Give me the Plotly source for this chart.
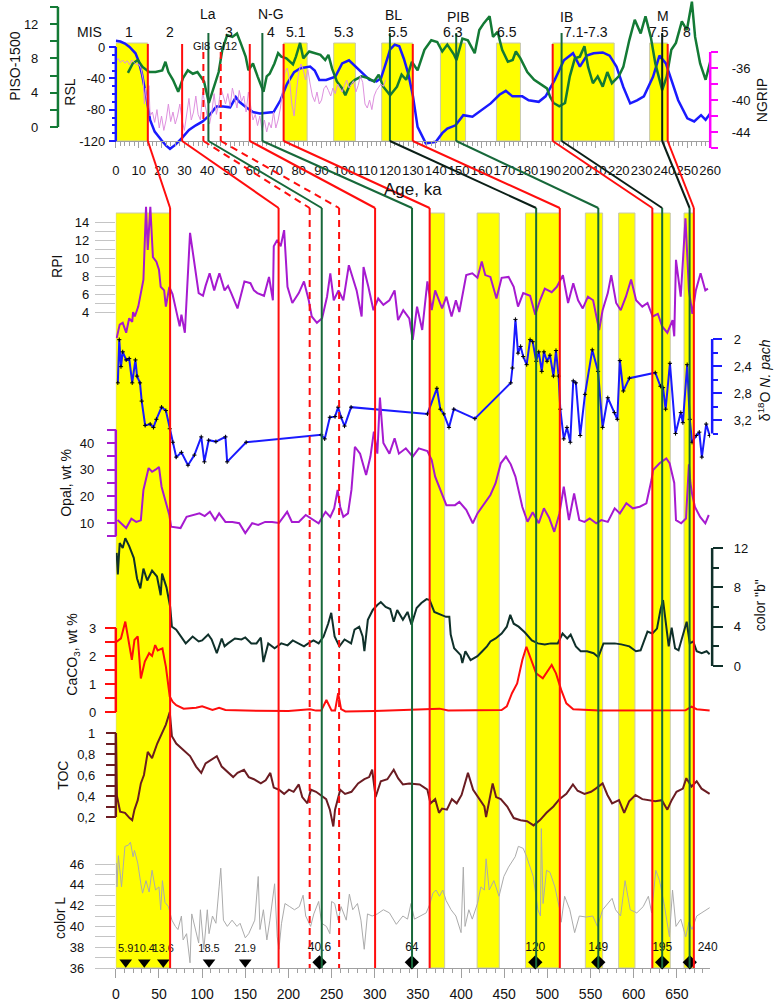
import plotly.graph_objects as go

W, H = 782, 1003

# ======================= DATA =======================
# ---- top panel: age (ka) ----
RSL = [(0, 8), (2, 7), (4, 4.5), (6, 0), (8.6, -8), (10, -18), (11.4, -34), (12.5, -50), (13.6, -68), (15, -93),
       (17, -108), (20, -119), (22, -126), (23.7, -130), (26, -125), (29, -116), (32, -106), (35, -100), (38, -95),
       (41, -87), (44, -76), (47, -76), (50, -77), (52.5, -64), (54, -70), (57, -77), (60, -83), (63, -85), (66, -84),
       (69, -83), (72, -68), (74.9, -47), (78, -32), (80.8, -27), (85, -25), (87, -30), (89, -42), (92, -42), (96, -38),
       (99, -21), (102, -17), (105, -25), (108, -34), (111, -42), (114, -44), (116, -40), (118, -22), (120, -3),
       (122, 3), (124, 1), (126, -15), (128, -35), (130, -63), (132, -102), (135.6, -123), (140, -121), (142.8, -110),
       (145, -104), (148.6, -100), (152, -87), (156, -89), (160, -80), (164, -72), (167.8, -61), (170.6, -56),
       (173.5, -63), (177.8, -63), (180.6, -68), (185, -70), (188, -63), (192, -42), (196, -17), (200, -8), (203, -25),
       (206, -11), (209, -8), (213, -7), (216, -11), (219, -25), (222, -51), (225, -72), (228, -68), (231, -63),
       (235, -38), (237.8, -11), (240.6, -21), (243.5, -46), (246, -68), (250, -91), (253, -95), (256, -87),
       (258, -93), (260, -85)]

PISO = [(5.3, 6.3), (7.4, 7.4), (9.6, 7.8), (11.7, 7.0), (14.6, 6.4), (17.4, 6.4), (20.3, 6.6), (21.7, 7.6), (23, 6.4),
        (25, 5.5), (27.3, 4.1), (29.4, 5.7), (31.5, 6.6), (33.7, 6.2), (35.7, 6.4), (38.6, 5.3), (40.7, 2.8), (43, 4.7),
        (45, 6.4), (46.6, 9.0), (48.7, 10.7), (51, 10.5), (53, 10.9), (54.6, 9.8), (56.8, 8.2), (58, 6.6), (60, 7.4),
        (62, 5.9), (64.6, 4.1), (66, 5.9), (67.3, 6.2), (69.4, 7.4), (71, 8.6), (72.4, 8.2), (74.6, 8.0), (77.5, 7.3),
        (78.8, 8.2), (80.6, 9.8), (82, 8.0), (84.6, 8.8), (87.3, 8.6), (89.5, 8.4), (91.6, 7.8), (93, 8.4), (94.6, 6.8),
        (96.7, 5.3), (99, 4.5), (100.4, 3.7), (102.5, 5.0), (104.6, 5.5), (107.5, 5.9), (110.4, 5.7), (113, 5.3),
        (115, 6.1), (117, 4.7), (120, 3.7), (123, 4.7), (125, 6.1), (127, 5.5), (129.5, 7.6), (132, 6.6), (135, 9.0),
        (138, 10.1), (140.6, 9.9), (142.8, 8.8), (145, 9.6), (148, 8.4), (149, 7.8), (151.6, 10.3), (154, 10.1),
        (157, 8.6), (159, 11.3), (161, 12.1), (163.5, 12.9), (165, 10.5), (167, 11.1), (169, 9.0), (171.5, 7.6),
        (173.6, 7.8), (175, 8.8), (177, 8.0), (180, 6.4), (183, 5.5), (186, 5.0), (188.6, 4.5), (190, 3.5),
        (191.5, 2.8), (194, 2.4), (196.5, 2.8), (198.6, 5.9), (200.8, 8.0), (203, 8.2), (205, 9.4), (206.6, 7.0),
        (208.7, 5.1), (210.8, 5.9), (213, 4.7), (215, 6.4), (217, 5.1), (220, 5.9), (222, 7.0), (224.6, 10.1),
        (227, 12.5), (229.6, 10.9), (231.7, 12.9), (234, 10.5), (236, 7.4), (239, 4.3), (241, 5.9), (243, 9.0),
        (245, 9.8), (247.6, 12.3), (249.8, 11.3), (252, 14.6), (253.4, 10.5), (255.6, 7.4), (258, 5.5), (260, 7.6)]

NGRIP = [(0, -35.2), (1, -34.8), (2, -35.3), (3, -35.0), (4, -35.4), (5, -35.1), (6, -35.6), (7, -35.0), (8, -35.3),
         (9, -35.6), (10, -35.5), (11, -36.0), (12, -37.5), (12.5, -40.5), (13, -38.5), (14, -41.0), (14.5, -38.2),
         (15, -42.0), (16, -41.5), (17, -42.8), (18, -41.2), (19, -43.5), (20, -42.0), (21, -43.8), (22, -42.5),
         (23, -40.5), (24, -42.7), (25, -41.5), (26, -43.0), (27, -42.0), (28, -40.5), (29, -42.5), (30, -43.8),
         (31, -42.0), (32, -39.8), (33, -42.5), (34, -41.5), (35, -39.5), (36, -41.8), (37, -42.5), (38, -39.0),
         (39, -40.5), (40, -42.0), (41, -43.0), (42, -41.5), (43, -39.2), (44, -41.8), (45, -40.5), (46, -38.5),
         (47, -39.5), (48, -40.5), (49, -39.2), (50, -40.8), (51, -38.5), (52, -39.8), (53, -41.0), (54, -38.8),
         (55, -40.2), (56, -39.5), (57, -41.5), (58, -39.0), (59, -40.8), (60, -42.5), (61, -41.8), (62, -43.2),
         (63, -42.0), (64, -43.8), (65, -42.5), (66, -44.0), (67, -42.8), (68, -43.5), (69, -41.5), (70, -43.5),
         (71, -42.5), (72, -41.0), (73, -38.5), (74, -36.5), (75, -36.0), (76, -37.5), (77, -40.5), (78, -42.0),
         (79, -39.0), (80, -36.5), (81, -35.5), (82, -36.2), (83, -37.5), (84, -36.2), (85, -38.0), (86, -39.5),
         (87, -40.2), (88, -39.0), (89, -40.5), (90, -40.0), (91, -38.6), (92, -38.2), (93, -38.8), (94, -39.5),
         (95, -38.5), (96, -39.2), (97, -38.0), (98, -38.6), (99, -39.0), (100, -38.2), (101, -37.5), (102, -38.5),
         (103, -38.0), (104, -37.6), (105, -39.0), (106, -38.2), (107, -37.0), (108, -37.8), (109, -40.5),
         (110, -41.0), (111, -40.0), (112, -41.2), (113, -39.5), (114, -38.8), (115, -38.4), (116, -38.0),
         (117, -38.3), (118, -37.5)]

# ---- main panel: depth (cm) ----
RPI = [(1, 1.1), (4.5, 2.6), (8, 2.8), (12, 1.7), (15.5, 3.3), (19, 2.9), (20, 4.0), (22, 3.5), (26, 4.6), (30, 6.4),
       (32, 7.6), (35, 15.7), (37, 10.9), (40, 15.7), (43, 10.1), (47, 9.6), (50, 8.7), (52, 6.8), (56, 6.4), (58, 4.6),
       (62, 6.8), (65.7, 6.0), (70, 4.2), (74, 2.4), (76, 3.7), (80, 1.7), (86, 12.8), (92, 9.0), (96, 6.1), (101, 5.8),
       (104, 6.9), (108.7, 8.3), (114, 6.4), (117, 7.4), (120, 8.3), (126, 6.4), (130, 6.9), (133.7, 6.1), (141, 4.4),
       (149, 7.4), (156, 7.2), (160, 6.4), (164, 6.1), (171.7, 5.8), (177.5, 7.9), (182, 5.3), (183, 11.3), (187, 12.0),
       (191, 11.3), (195, 13.1), (198.9, 6.8), (204.5, 5.0), (212, 6.1), (218, 7.4), (223.5, 5.3), (227, 3.5),
       (233, 2.8), (239, 3.3), (244.7, 5.7), (248.5, 8.3), (252.5, 5.3), (258, 6.4), (263.6, 5.3), (270, 9.2),
       (279, 6.4), (284.8, 3.5), (287, 9.0), (292.6, 6.8), (298.5, 4.2), (304, 5.5), (310, 4.8), (317, 5.3),
       (323, 6.4), (327, 3.1), (333, 4.2), (340, 3.3), (344, 0.9), (349, 4.6), (355, 2.0), (361, 7.4), (366, 4.2),
       (370, 6.4), (378, 4.4), (383, 5.7), (389, 3.5), (394, 5.3), (398, 4.0), (406, 8.1), (413, 8.3), (419, 7.8),
       (424, 9.6), (428, 8.1), (434, 7.9), (441, 5.5), (447, 7.8), (455, 7.9), (461, 6.8), (466, 4.6), (472, 6.1),
       (480, 5.8), (486, 3.7), (491.5, 5.3), (497, 6.6), (505, 6.2), (511, 6.8), (518, 8.1), (524, 5.0), (530, 7.2),
       (535.6, 5.3), (541, 4.4), (547, 5.7), (553, 5.3), (560, 2.0), (564, 4.2), (570, 6.1), (574, 8.1),
       (579.7, 5.0), (585, 4.2), (591, 5.7), (597, 7.6), (602.8, 5.3), (610, 4.6), (616, 5.0), (622, 3.5),
       (628, 3.8), (633, 2.4), (639, 1.7), (645, 3.1), (647, 1.3), (649, 9.8), (654.5, 5.7), (660, 14.4), (664, 6.4),
       (668, 3.8), (672, 6.4), (677.5, 8.3), (683, 6.4), (686, 6.6)]

D18O = [(2.3, 2.65), (4, 2.01), (6, 2.41), (8, 2.19), (12, 2.31), (15.5, 2.29), (19, 2.65), (22.7, 2.31), (24.6, 2.55),
        (28, 2.65), (30, 2.92), (34, 3.28), (39.8, 3.26), (43.6, 3.31), (47, 3.19), (53, 3.01), (58, 3.06),
        (62.5, 3.33), (66, 3.53), (70, 3.75), (76, 3.68), (83.6, 3.87), (91, 3.72), (99, 3.45), (102.6, 3.82),
        (107.6, 3.50), (116, 3.52), (127, 3.45), (129, 3.82), (151, 3.53), (238, 3.42), (242, 3.48), (248, 3.16),
        (254, 3.15), (257.6, 3.01), (261, 3.16), (265, 3.29), (272.6, 3.01), (361, 3.11), (372, 2.73), (376, 3.04),
        (380, 3.11), (386, 3.31), (391.6, 3.04), (416, 3.18), (457.6, 2.65), (459.5, 2.43), (463, 1.71), (466, 2.21),
        (469, 2.11), (472, 2.26), (476, 2.38), (480, 2.01), (483, 2.04), (487, 2.33), (490, 2.19), (493.5, 2.48),
        (496, 2.19), (499.6, 2.33), (503, 2.24), (507, 2.55), (510, 2.17), (513, 2.55), (515, 3.04), (519, 3.48),
        (522.7, 3.31), (526.5, 3.53), (530, 2.62), (533, 2.65), (538, 3.43), (543.6, 2.82), (552, 2.16),
        (558.7, 2.48), (564, 3.31), (570, 2.87), (577.6, 3.09), (581, 3.19), (584, 2.32), (588, 2.77), (595, 2.58),
        (625, 2.50), (631, 2.70), (634, 2.72), (637, 3.04), (642, 2.36), (648.5, 3.40), (654.6, 3.09), (657, 3.24),
        (662, 2.38), (665, 3.19), (667.6, 3.53), (672.5, 3.43), (676, 3.38), (679, 3.75), (684, 3.26), (688, 3.43)]

OPAL = [(2, 11.1), (6, 9.9), (12, 8.1), (18, 11.6), (23.6, 10.4), (29, 11), (32, 22.4), (38, 30.6), (42, 29.2), (46, 30),
        (50, 31), (53, 23.6), (58, 18), (62, 13), (64, 8.6), (75, 8.1), (82, 12.3), (90, 13), (97, 13.6), (103, 12.6),
        (109, 14.2), (115, 11.1), (119.7, 13.6), (127, 10.4), (135, 10.4), (143, 9.9), (150, 6.2), (158, 9.9),
        (165, 9.3), (173, 10.4), (181, 10.4), (189, 10), (198.5, 14.2), (204, 10.4), (212, 10.4), (220, 13),
        (227, 11.7), (235, 9.9), (243, 14.2), (248.5, 12.3), (253, 15.5), (257, 22.4), (260, 16), (263.6, 12.3),
        (269, 13.6), (273, 22.4), (277, 38.6), (283, 36), (290, 28), (295, 34.9), (299, 44.3), (303, 36), (306, 57),
        (310, 40), (317, 36), (323, 41.8), (328, 36), (336, 38), (344, 34.9), (351, 38), (361, 37), (366, 33.6),
        (370, 27.4), (378, 21.1), (383, 16.7), (393, 16.7), (398, 17.9), (406, 14.9), (413.6, 9.9), (419, 13.6),
        (427, 17.4), (434, 20.5), (440, 24.9), (446, 32.4), (452, 34.9), (457.6, 32), (463, 27.4), (471, 16),
        (477, 10.5), (483, 14), (490, 9.9), (496, 15.5), (502, 12), (508, 6.7), (514, 13.6), (519, 23.6),
        (525, 11.1), (531, 21.1), (537, 11.1), (543, 10.4), (549, 11.7), (556.6, 9.9), (562.5, 11.1), (570, 10.4),
        (578, 15.5), (584, 13.6), (591.5, 17.4), (599, 15.5), (607, 16.1), (614.7, 17.4), (620.6, 26.1),
        (622.5, 29.9), (630, 32.4), (637.8, 34.2), (641.6, 32.4), (647, 25), (649, 11.1), (655, 9.9), (660.6, 11.7),
        (662, 22), (664, 32), (665.7, 25), (667.6, 21), (671, 16), (677, 12.3), (683, 9.9), (687, 13)]

COLOR_B = [(1, 11.5), (2.3, 9.3), (4.5, 12.5), (8, 12), (11, 13), (15.5, 12.2), (20.8, 11), (24.6, 8.9), (28.4, 7.9),
           (32, 9.9), (36.4, 8.7), (42, 9.7), (47.7, 9.1), (52, 7.2), (53.6, 9.4), (58.7, 8.0), (63, 6.0), (65, 4.0),
           (70, 3.7), (76, 3.0), (81, 2.3), (89, 3.0), (96, 2.5), (100, 2.6), (104, 3.0), (107, 3.2), (111, 2.7),
           (117, 1.3), (122.7, 2.8), (126, 2.0), (130, 2.3), (138, 2.8), (145.6, 2.7), (150, 2.9), (157, 2.3),
           (163, 2.3), (168, 2.9), (171, 0.4), (176.6, 2.3), (184, 1.8), (191.7, 2.3), (199, 2.1), (205, 2.6),
           (212, 2.3), (218, 2.0), (223, 2.3), (229, 2.6), (235, 2.3), (240.7, 3.0), (246, 4.3), (249.6, 5.4),
           (253.5, 3.0), (259, 2.0), (265, 2.7), (272.6, 2.3), (276.6, 3.7), (282, 4.0), (286, 3.0), (288, 1.5),
           (292, 4.7), (297.7, 5.7), (303, 6.2), (307, 6.5), (312.6, 6.0), (318, 5.8), (322, 4.5), (326, 5.7),
           (332.6, 4.7), (338, 5.5), (342.6, 4.2), (348.5, 5.9), (354, 6.4), (360, 6.8), (363.6, 6.7), (369, 5.5),
           (377, 5.2), (382.6, 5.0), (386.4, 5.0), (388, 3.2), (392, 1.8), (399.6, 1.1), (401.5, 0.3), (405, 1.5),
           (411, 0.6), (419, 1.0), (424.6, 1.5), (430, 2.0), (434, 2.5), (440, 2.8), (447, 3.3), (453, 4.0),
           (457, 5.2), (461, 4.3), (466.7, 4.0), (474, 3.4), (482, 2.6), (489, 2.3), (497, 2.2), (504, 2.3),
           (512, 2.3), (517.6, 3.3), (523, 2.8), (527, 3.2), (533, 2.0), (538.6, 1.5), (546, 1.5), (553.6, 1.3),
           (559, 0.9), (565, 2.3), (570.6, 2.3), (578, 2.3), (585.6, 2.2), (595, 2.0), (602.6, 1.5), (608, 1.6),
           (616, 3.5), (621.6, 3.3), (627, 3.8), (631, 5.7), (634, 6.7), (636.7, 4.5), (640.6, 2.0), (644, 3.9),
           (648, 1.8), (652, 1.6), (657.6, 3.3), (661.4, 4.5), (665, 2.3), (669, 2.5), (673, 1.5), (678.8, 1.3),
           (684.5, 1.5), (688, 1.2)]

CACO3 = [(1, 2.51), (6, 2.63), (11, 3.23), (14.8, 2.57), (18.6, 1.86), (21.6, 2.57), (25.4, 2.70), (29, 1.2),
         (33.6, 1.8), (38.6, 2.1), (42, 2.0), (45.6, 2.39), (48.5, 2.2), (54, 2.27), (58, 1.62), (62.5, 0.55),
         (66, 0.36), (70, 0.24), (78.6, 0.12), (93, 0.15), (100, 0.2), (112, 0.07), (119.7, 0.15), (127, 0.07),
         (150, 0.05), (200, 0.04), (225, 0.1), (232, 0.05), (238, 0.05), (244, 0.43), (250, 0.05), (254, 0.05),
         (257.6, 0.67), (261, 0.1), (266, 0.02), (300, 0.04), (365, 0.1), (375, 0.12), (385, 0.05), (447, 0.07),
         (453, 0.2), (459, 0.67), (465, 1.02), (471, 1.86), (475.7, 2.33), (481, 1.86), (487, 1.38), (494.7, 1.2),
         (500.6, 1.5), (505, 1.68), (510, 1.38), (516, 0.79), (522, 0.31), (530, 0.1), (560, 0.05), (620, 0.05),
         (660, 0.06), (667, 0.19), (673, 0.1), (688, 0.05)]

TOC = [(0.2, 1.0), (0.8, 0.6), (1.3, 0.4), (5, 0.25), (10.6, 0.24), (16, 0.19), (19, 0.17), (21.6, 0.27), (25.4, 0.36),
       (29, 0.52), (32.6, 0.6), (37, 0.82), (42, 0.76), (48, 0.9), (53.6, 1.0), (58, 1.08), (62.5, 1.2), (65, 0.97),
       (70, 0.9), (78.6, 0.84), (86, 0.78), (93, 0.68), (99, 0.62), (104, 0.71), (111, 0.75), (117, 0.78),
       (122.7, 0.68), (130, 0.62), (136, 0.58), (141, 0.62), (148.5, 0.65), (154, 0.58), (160, 0.56), (168, 0.52),
       (173.6, 0.55), (179, 0.62), (183, 0.48), (189, 0.46), (195, 0.42), (200.6, 0.46), (206, 0.44), (212, 0.51),
       (216, 0.39), (222, 0.33), (226, 0.46), (232, 0.44), (238, 0.40), (243.7, 0.37), (248, 0.27), (252, 0.11),
       (254, 0.27), (258, 0.39), (260, 0.46), (265.6, 0.42), (273, 0.44), (280.7, 0.52), (288, 0.56), (293.5, 0.58),
       (297, 0.65), (301, 0.39), (307, 0.54), (314.6, 0.56), (322, 0.65), (327, 0.57), (332.6, 0.51), (340, 0.52),
       (352, 0.51), (361, 0.46), (364.6, 0.33), (370, 0.37), (374.4, 0.24), (378, 0.28), (383.6, 0.27),
       (389.4, 0.37), (395, 0.33), (400.6, 0.41), (408, 0.62), (414, 0.46), (419.7, 0.39), (427, 0.3), (429, 0.2),
       (433, 0.39), (436.6, 0.52), (440.6, 0.39), (446, 0.37), (453.5, 0.3), (461, 0.19), (469, 0.17),
       (476.5, 0.16), (484, 0.12), (491.5, 0.17), (499, 0.24), (507, 0.3), (514, 0.37), (522, 0.42), (529.6, 0.51),
       (535, 0.45), (543, 0.42), (550.6, 0.44), (556, 0.47), (564, 0.52), (569.6, 0.41), (575, 0.33), (583, 0.36),
       (589, 0.24), (594.7, 0.35), (602, 0.41), (610, 0.37), (617.4, 0.36), (625, 0.35), (632.6, 0.36), (639, 0.27),
       (644, 0.36), (649.6, 0.44), (657, 0.47), (661, 0.57), (667, 0.49), (673, 0.54), (678.6, 0.47), (684.5, 0.44),
       (688, 0.42)]

COLOR_L = [(0.5, 46.1), (1.3, 43.8), (3, 46.8), (6.6, 43.8), (10.6, 47.7), (14.4, 47.8), (17, 48.1), (20, 46.7),
           (21.6, 47.3), (25.4, 46.1), (29, 44.1), (31, 43.2), (35, 44.4), (38.6, 43.3), (42, 45.4), (46, 43.5),
           (50, 43.8), (52, 41.6), (54, 44.4), (57, 42.3), (61, 41.9), (65, 40.6), (69, 40.0), (72, 39.7), (76, 41.0),
           (78, 38.7), (82, 39.3), (86, 36.5), (88, 41.2), (92, 39.7), (96, 38.4), (98, 41.6), (102, 37.8),
           (106, 41.6), (108, 39.3), (112, 41.0), (116, 40.3), (119.7, 43.8), (121.6, 45.6), (124.7, 40.6),
           (129.2, 40.0), (134.7, 40.6), (140.4, 40.0), (144, 40.3), (150, 38.9), (154, 39.3), (157.6, 40.0),
           (161, 40.6), (165, 44.8), (167, 39.7), (171, 41.6), (175, 38.7), (178.5, 40.6), (184, 44.1), (187, 39.0),
           (189, 37.8), (192, 40.3), (196, 42.2), (201.5, 41.9), (207, 41.6), (212.6, 41.9), (217, 43.0), (220, 41.0),
           (225.7, 40.0), (229.4, 41.2), (235, 42.4), (238.5, 40.3), (244, 40.0), (248, 39.3), (250, 42.4),
           (253.6, 42.2), (257.6, 40.6), (261, 41.9), (267, 40.6), (270.6, 43.1), (274.5, 41.6), (280, 42.2),
           (284, 40.6), (287.8, 37.8), (291.6, 41.2), (297, 41.0), (303, 41.2), (310, 41.6), (317, 41.3), (325, 40.2),
           (332.6, 41.0), (338, 40.7), (342, 42.2), (346, 40.7), (352, 41.0), (359.6, 41.3), (363.6, 42.1),
           (367.4, 43.2), (371, 43.5), (375, 42.9), (378.8, 43.5), (382.6, 42.5), (388.4, 41.6), (394, 41.0),
           (400, 39.4), (402.6, 45.7), (404.6, 40.0), (409, 41.6), (413, 40.7), (419, 42.2), (423, 43.8), (427, 43.5),
           (429, 46.5), (432.6, 43.5), (438, 44.4), (444, 42.9), (449.6, 44.8), (455, 45.7), (462.7, 46.7),
           (466.4, 47.7), (472, 47.5), (476, 46.7), (480, 45.7), (483.6, 44.8), (489, 41.6), (492, 41.0), (493, 49.4),
           (495, 42.2), (499, 45.4), (503, 45.2), (508.7, 43.8), (514.4, 41.6), (516, 40.4), (520, 42.9), (526, 41.6),
           (531.6, 39.4), (537, 41.0), (545, 40.9), (552.6, 41.0), (558, 40.0), (564, 41.6), (570, 42.2), (575, 42.7),
           (579, 41.6), (584.8, 41.0), (590, 44.4), (596, 41.6), (603.6, 41.3), (611, 41.9), (617, 42.9),
           (620.8, 41.3), (625.6, 45.4), (630, 44.4), (635.8, 41.9), (641.4, 39.0), (645, 43.5), (649, 40.0),
           (654.6, 40.7), (660.3, 39.0), (664, 40.4), (667.6, 39.7), (673, 41.0), (679, 41.3), (684.5, 41.6),
           (688, 41.8)]

# age-control points (depth, age label)
TRI_DEPTH = [11.5, 33, 55, 108, 150]
TRI_LABEL = ["5.9", "10.4", "13.6", "18.5", "21.9"]
DIA_DEPTH = [236, 343, 486, 559, 633, 665]
DIA_LABEL = ["40.6", "64", "120", "149", "195", "240"]

# warm stages (yellow) in age and depth
AGE_BANDS = [(0, 14), (73.4, 83.7), (95.3, 104.8), (116.3, 129.9), (142, 153), (166.5, 177), (191.1, 218), (233.5, 241.4)]
DEPTH_BANDS = [(0, 62.9), (364, 381), (418.6, 444.3), (474.6, 514.4), (544, 564), (582.6, 601.5), (621.6, 642.4), (658.3, 669.7)]

# correlation tie points: age (ka) -> depth (cm)
TIE_AGE = [14, 29, 38.3, 40.5, 45.9, 58.6, 64.1, 73.4, 119.9, 129.9, 148.9, 191.1, 195, 239, 241.4]
TIE_DEPTH = [62.9, 188.6, 224.6, 238.6, 258.7, 300.4, 343.2, 363.6, 487, 514.4, 559, 621.6, 633, 664.8, 669.7]
TIE_KIND = ["r", "r", "rd", "g", "rd", "r", "g", "r", "k", "r", "g", "r", "k", "kk", "r"]

MIS_LABEL = ["1", "2", "3", "4", "5.1", "5.3", "5.5", "6.3", "6.5", "7.1-7.3", "7.5", "8"]
MIS_AGE = [5.6, 23.6, 49.4, 67.8, 79, 100, 123.5, 147.6, 171, 205.6, 237.8, 250]
EVENT_LABEL = ["La", "N-G", "BL", "PIB", "IB", "M"]
EVENT_AGE = [40.3, 67.8, 121.5, 149.8, 197, 239.5]
GI_LABEL = ["Gl8", "Gl12"]
GI_AGE = [37.3, 48]

# ======================= STYLE / LAYOUT =======================
FONT = "Liberation Sans, Arial, sans-serif"
BLUE = "#1a1aff"
GREEN = "#137a35"
DKGREEN = "#17683a"
BLACK = "#0b1f17"
RED = "#ff0d0d"
PURPLE = "#a61ad0"
PINK = "#de90de"
MAGENTA = "#ff00ff"
CB_COL = "#0f302a"
TOC_COL = "#6b1c22"
GRAY_T = "#c4c4c4"
AX_GRAY = "#a0a0a0"

X_L, X_R = 114, 720
AGE_RANGE = [0, 260]
DEPTH_RANGE = [0, (X_R - X_L) / 0.88]
Y_AGE_AXIS, Y_DEPTH_AXIS = 141, 968
Y_TIE_TOP = 208
Y_BAND_MAIN_TOP = 213
Y_BAND_TOP = (43, 141)


def unzip(pairs):
    return [p[0] for p in pairs], [p[1] for p in pairs]


def px(x):
    return x / W


def py(y):
    return 1 - y / H


def age_px(a):
    return X_L + (a - AGE_RANGE[0]) / (AGE_RANGE[1] - AGE_RANGE[0]) * (X_R - X_L)


def depth_px(d):
    return X_L + (d - DEPTH_RANGE[0]) / (DEPTH_RANGE[1] - DEPTH_RANGE[0]) * (X_R - X_L)


# y-axis definitions: reference (value_a, pixel_a, value_b, pixel_b)
AXES = {
    "yaxis": dict(ref=(0, 47, -120, 141), side="left", pos=114, color=BLUE, major=[-120, -80, -40, 0],
                  minor=[-110, -100, -90, -70, -60, -50, -30, -20, -10], line=(-120, 0), tl=7, ml=4, so=1, tw=2),
    "yaxis2": dict(ref=(12, 24, 0, 127), side="left", pos=55, color=GREEN, major=[0, 4, 8, 12], minor=[2, 6, 10, 14],
                   line=(0, 14), tl=8, ml=8, so=9, tw=2),
    "yaxis3": dict(ref=(-36, 68, -44, 132), side="right", pos=720, color=MAGENTA, major=[-44, -40, -36],
                   minor=[-46, -42, -38, -34], line=(-46, -34), tl=7, ml=7, so=11, tw=2),
    "yaxis4": dict(ref=(14, 222, 4, 312), side="left", pos=113, color=GRAY_T, major=[4, 6, 8, 10, 12, 14],
                   minor=[5, 7, 9, 11, 13], line=None, tl=20, ml=20, so=3, tw=1),
    "yaxis5": dict(ref=(2, 339, 3.2, 420), side="right", pos=722, color=BLUE, major=[2, 2.4, 2.8, 3.2],
                   text=["2", "2,4", "2,8", "3,2"], minor=[2.2, 2.6, 3.0, 3.4], line=(2, 3.4), tl=9, ml=5, so=9, tw=2),
    "yaxis6": dict(ref=(40, 443, 10, 523), side="left", pos=114, color=PURPLE, major=[10, 20, 30, 40],
                   minor=[5, 15, 25, 35, 45], line=(5, 45), tl=9, ml=9, so=10, tw=2),
    "yaxis7": dict(ref=(12, 548, 0, 666), side="right", pos=722, color=CB_COL, major=[0, 4, 8, 12], minor=[2, 6, 10],
                   line=(0, 12), tl=10, ml=6, so=8, tw=2),
    "yaxis8": dict(ref=(3, 628, 0, 712), side="left", pos=114, color=RED, major=[0, 1, 2, 3], minor=[0.5, 1.5, 2.5],
                   line=(0, 3), tl=11, ml=11, so=6, tw=2),
    "yaxis9": dict(ref=(1, 733, 0.2, 817), side="left", pos=114, color=TOC_COL, major=[0.2, 0.4, 0.6, 0.8, 1.0],
                   text=["0,2", "0,4", "0,6", "0,8", "1"], minor=[0.3, 0.5, 0.7, 0.9], line=(0.2, 1.0), tl=10, ml=10,
                   so=8, tw=2),
    "yaxis10": dict(ref=(46, 864, 36, 968), side="left", pos=113, color=GRAY_T, major=[36, 38, 40, 42, 44, 46],
                    minor=[37, 39, 41, 43, 45], line=None, tl=20, ml=20, so=8, tw=1),
}


def ppu(cfg):
    va, ya, vb, yb = cfg["ref"]
    return (yb - ya) / (va - vb)


def v2px(cfg, v):
    va, ya, _, _ = cfg["ref"]
    return ya + (va - v) * ppu(cfg)


def yrange(cfg):
    va, ya, _, _ = cfg["ref"]
    k = ppu(cfg)
    return [va - (H - ya) / k, va + ya / k]


fig = go.Figure()


def add_line(pairs, xa, ya, color, width, **kw):
    xs, ys = unzip(pairs)
    fig.add_trace(go.Scatter(x=xs, y=ys, xaxis=xa, yaxis=ya, mode=kw.pop("mode", "lines"),
                             line=dict(color=color, width=width), hoverinfo="skip", **kw))


add_line(NGRIP, "x", "y3", PINK, 1)
add_line(RSL, "x", "y", BLUE, 2.5)
add_line(PISO, "x", "y2", GREEN, 2.5)
add_line(COLOR_L, "x2", "y10", "#ababab", 1)
add_line(TOC, "x2", "y9", TOC_COL, 2)
add_line(CACO3, "x2", "y8", RED, 2)
add_line(COLOR_B, "x2", "y7", CB_COL, 2)
add_line(OPAL, "x2", "y6", PURPLE, 2)
add_line(D18O, "x2", "y5", BLUE, 2, mode="lines+markers",
         marker=dict(symbol="cross-thin", size=3, color="black", line=dict(width=1, color="black")))
add_line(RPI, "x2", "y4", PURPLE, 2)

# age-control markers
L_BASE = 36.55
fig.add_trace(go.Scatter(x=TRI_DEPTH, y=[L_BASE] * len(TRI_DEPTH), xaxis="x2", yaxis="y10", mode="markers+text",
                         marker=dict(symbol="triangle-down", size=11, color="black"), text=TRI_LABEL,
                         textposition="top center", textfont=dict(size=11, color="#111"), cliponaxis=False,
                         hoverinfo="skip"))
fig.add_trace(go.Scatter(x=DIA_DEPTH, y=[L_BASE] * len(DIA_DEPTH), xaxis="x2", yaxis="y10", mode="markers+text",
                         marker=dict(symbol="diamond", size=11, color="black"), text=DIA_LABEL,
                         textposition=["top center"] * (len(DIA_DEPTH) - 1) + ["top right"],
                         textfont=dict(size=12, color="#111"), cliponaxis=False, hoverinfo="skip"))

layout = dict(
    width=W, height=H, margin=dict(l=0, r=0, t=0, b=0), paper_bgcolor="white", plot_bgcolor="rgba(0,0,0,0)",
    showlegend=False, font=dict(family=FONT, size=13, color="#111"),
)

layout["xaxis"] = dict(domain=[px(X_L), px(X_R)], range=AGE_RANGE, anchor="free", position=py(Y_AGE_AXIS),
                       showline=True, linecolor=AX_GRAY, linewidth=1, showgrid=False, zeroline=False,
                       tickmode="array", tickvals=list(range(0, 261, 10)), ticks="outside", ticklen=6,
                       tickcolor=AX_GRAY, tickangle=0, ticklabelstandoff=11, tickfont=dict(size=13, color="#111"),
                       minor=dict(tickmode="array", tickvals=[v for v in range(0, 261, 2) if v % 10],
                                  ticks="outside", ticklen=4, tickcolor=AX_GRAY))
layout["xaxis2"] = dict(domain=[px(X_L), px(X_R)], range=DEPTH_RANGE, anchor="free", position=py(Y_DEPTH_AXIS),
                        showline=True, linecolor=AX_GRAY, linewidth=1, showgrid=False, zeroline=False,
                        tickmode="array", tickvals=list(range(0, 651, 50)), ticks="outside", ticklen=9,
                        tickcolor=AX_GRAY, tickangle=0, ticklabelstandoff=4, tickfont=dict(size=14, color="#111"),
                        minor=dict(tickmode="array", tickvals=[v for v in range(0, 690, 10) if v % 50],
                                   ticks="outside", ticklen=4, tickcolor=AX_GRAY))

shapes = []
for name, cfg in AXES.items():
    layout[name] = dict(
        domain=[0, 1], range=yrange(cfg), autorange=False, anchor="free", position=px(cfg["pos"]),
        side=cfg["side"], showline=False, showgrid=False, zeroline=False, tickmode="array",
        tickvals=cfg["major"], ticktext=cfg.get("text", [str(v) for v in cfg["major"]]),
        ticks="outside", ticklen=cfg["tl"], tickwidth=cfg["tw"], tickcolor=cfg["color"],
        ticklabelstandoff=cfg["so"], tickfont=dict(size=13, color="#111"),
        minor=dict(tickmode="array", tickvals=cfg["minor"], ticks="outside", ticklen=cfg["ml"],
                   tickwidth=cfg["tw"], tickcolor=cfg["color"]),
    )
    if cfg["line"] is not None:
        lo, hi = cfg["line"]
        shapes.append(dict(type="line", xref="paper", yref="paper", x0=px(cfg["pos"]), x1=px(cfg["pos"]),
                           y0=py(v2px(cfg, lo)), y1=py(v2px(cfg, hi)), line=dict(color=cfg["color"], width=2.5),
                           layer="above"))

# yellow bands
for a0, a1 in AGE_BANDS:
    shapes.append(dict(type="rect", xref="x", yref="paper", x0=a0, x1=a1, y0=py(Y_BAND_TOP[1]), y1=py(Y_BAND_TOP[0]),
                       fillcolor="#ffff00", line=dict(color="#c8c8b0", width=1), layer="below"))
for d0, d1 in DEPTH_BANDS:
    shapes.append(dict(type="rect", xref="x2", yref="paper", x0=d0, x1=d1, y0=py(Y_DEPTH_AXIS), y1=py(Y_BAND_MAIN_TOP),
                       fillcolor="#ffff00", line=dict(color="#c8c8b0", width=1), layer="below"))

# correlation lines
KIND = {
    "r": dict(conn=RED, top=RED, main=RED, dash="solid", ytop=44),
    "rd": dict(conn=RED, top=RED, main=RED, dash="7px,5px", ytop=52),
    "g": dict(conn=DKGREEN, top=DKGREEN, main=DKGREEN, dash="solid", ytop=33),
    "k": dict(conn=BLACK, top=DKGREEN, main=DKGREEN, dash="solid", ytop=33),
    "kk": dict(conn=BLACK, top=BLACK, main=DKGREEN, dash="solid", ytop=33),
}
for a, d, k in zip(TIE_AGE, TIE_DEPTH, TIE_KIND):
    s = KIND[k]
    shapes.append(dict(type="line", xref="x", yref="paper", x0=a, x1=a, y0=py(s["ytop"]), y1=py(Y_AGE_AXIS),
                       line=dict(color=s["top"], width=2, dash=s["dash"]), layer="above"))
    shapes.append(dict(type="line", xref="paper", yref="paper", x0=px(age_px(a)), x1=px(depth_px(d)),
                       y0=py(Y_AGE_AXIS), y1=py(Y_TIE_TOP), line=dict(color=s["conn"], width=2, dash=s["dash"]),
                       layer="above"))
    shapes.append(dict(type="line", xref="x2", yref="paper", x0=d, x1=d, y0=py(Y_TIE_TOP), y1=py(Y_DEPTH_AXIS),
                       line=dict(color=s["main"], width=2, dash=s["dash"]), layer="above"))

layout["shapes"] = shapes

ann = []


def text(x, y, t, size=14, angle=0, xref="paper", xanchor="center"):
    ann.append(dict(x=x, y=py(y), xref=xref, yref="paper", text=t, showarrow=False, textangle=angle,
                    font=dict(size=size, color="#111", family=FONT), xanchor=xanchor, yanchor="middle"))


text(px(87), 32, "MIS")
for lab, a in zip(MIS_LABEL, MIS_AGE):
    text(a, 32, lab, xref="x")
EVENT_Y = [14, 14, 15, 17, 17, 16]
for lab, a, yy in zip(EVENT_LABEL, EVENT_AGE, EVENT_Y):
    text(a, yy, lab, xref="x")
for lab, a in zip(GI_LABEL, GI_AGE):
    text(a, 46, lab, size=11, xref="x")

text(px(11), 66, "PISO-1500", angle=-90)
text(px(67), 92, "RSL", angle=-90)
text(px(773), 100, "NGRIP", angle=-90)
text(px(417), 189, "Age, ka", size=17)
text(px(54), 266, "RPI", angle=-90)
text(px(775), 380, "δ<sup>18</sup>O <i>N. pach</i>", angle=-90)
text(px(63), 483, "Opal, wt %", angle=-90)
text(px(771), 605, "color \"b\"", angle=-90)
text(px(70), 655, "CaCO<sub>3</sub>, wt %", angle=-90)
text(px(60), 775, "TOC", angle=-90)
text(px(57), 918, "color L", angle=-90)

layout["annotations"] = ann
fig.update_layout(**layout)

fig.write_html("out.html", config={"displayModeBar": False},
               post_script="document.body.style.margin='0px';")
